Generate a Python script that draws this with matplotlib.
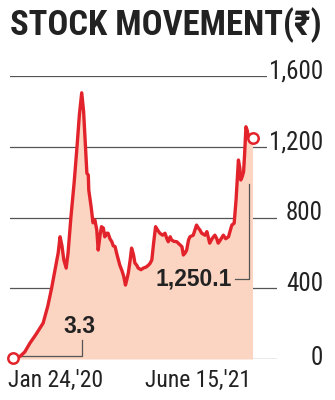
import matplotlib
matplotlib.use('Agg')
import matplotlib.pyplot as plt
import matplotlib.transforms as mtransforms
from matplotlib import font_manager

# days since Jan 24, 2020 and share price (rupees)
days = [0, 14, 24, 35, 48, 63, 73, 81, 88, 95, 99, 103, 107, 112, 116, 122, 129, 135, 140, 145,
        149, 153, 156, 159, 160, 165, 169, 173, 177, 180, 184, 187, 191, 194, 198, 201, 205, 209,
        212, 216, 219, 223, 226, 230, 234, 238, 241, 244, 248, 251, 255, 258, 262, 265, 271, 276,
        282, 287, 290, 294, 298, 302, 306, 311, 317, 322, 326, 329, 333, 336, 341, 347, 352, 358,
        361, 365, 368, 372, 375, 382, 389, 393, 396, 400, 407, 411, 417, 422, 428, 432, 435, 439,
        446, 451, 457, 460, 464, 469, 473, 478, 481, 483, 486, 489, 491, 494, 497, 499, 508]
price = [3.3, 15, 40, 90, 140, 203, 300, 400, 500, 600, 691, 640, 560, 514, 600, 800, 1000, 1200,
         1380, 1505, 1400, 1200, 1050, 1040, 955, 860, 770, 786, 729, 616, 700, 748, 740, 691, 711,
         711, 680, 663, 640, 635, 600, 560, 530, 503, 470, 418, 450, 486, 560, 627, 590, 543, 530,
         514, 505, 514, 520, 531, 540, 560, 660, 748, 730, 711, 700, 711, 680, 663, 691, 673, 665,
         663, 650, 635, 588, 600, 616, 673, 691, 700, 757, 740, 730, 711, 700, 720, 655, 680, 700,
         680, 655, 670, 700, 680, 691, 720, 757, 768, 900, 1125, 1080, 1012, 1030, 1059, 1150, 1313,
         1290, 1256, 1250.1]

y_ticks = [0, 400, 800, 1200, 1600]
y_labels = ['0', '400', '800', '1,200', '1,600']
x_labels = ["Jan 24,'20", "June 15,'21"]
first_label = '3.3'
last_label = '1,250.1'


def pick_font(names):
    for name in names:
        try:
            font_manager.findfont(font_manager.FontProperties(family=name), fallback_to_default=False)
            return name
        except ValueError:
            pass
    return 'DejaVu Sans'


narrow = [pick_font(['Liberation Sans Narrow', 'DejaVu Sans Condensed', 'Roboto Condensed',
                     'Liberation Sans', 'Roboto']), 'DejaVu Sans']
boldfont = [pick_font(['Liberation Sans', 'Roboto']), 'DejaVu Sans']

fig = plt.figure(figsize=(3.35, 4.0), dpi=100)
ax = fig.add_axes([10 / 335, 41 / 400, 267 / 335, 283 / 400])
ax.set_xlim(-7.4, 560)
ax.set_ylim(0, 1600)
ax.axis('off')

# gridlines
for v in y_ticks:
    ax.axhline(v, color='#555555', lw=0.9, zorder=1)

ax.fill_between(days, price, 0, color='#fbd4c2', lw=0, zorder=2)
ax.plot(days, price, color='#e3232b', lw=2.4, zorder=4, clip_on=False, solid_joinstyle='round')
ax.plot([days[0], days[-1]], [price[0], price[-1]], ls='none', marker='o', ms=7.5,
        mfc='white', mec='#e3232b', mew=1.8, zorder=5, clip_on=False)

# y labels on the right
trans = mtransforms.blended_transform_factory(ax.transAxes, ax.transData)
for v, lab in zip(y_ticks, y_labels):
    off = -4.5 if v == 0 else -2
    ax.annotate(lab, xy=(1.1723, v), xycoords=trans, xytext=(0, off), textcoords='offset points',
                ha='right', va='baseline', fontsize=18, family=narrow, color='#222222',
                bbox=dict(facecolor='white', edgecolor='none', pad=1.0), zorder=3)

# x labels
ax.annotate(x_labels[0], xy=(0, 0), xycoords=('data', 'axes fraction'), xytext=(-4, -7),
            textcoords='offset points', ha='left', va='top', fontsize=17, family=narrow,
            color='#222222')
ax.annotate(x_labels[1], xy=(days[-1], 0), xycoords=('data', 'axes fraction'), xytext=(-1, -7),
            textcoords='offset points', ha='right', va='top', fontsize=17, family=narrow,
            color='#222222')

# callouts
ax.plot([days[0], 145.6, 145.6], [15, 15, 107], color='#555555', lw=0.9, zorder=3, clip_on=False)
ax.text(141, 147, first_label, ha='center', va='baseline', fontsize=16.5, fontweight='bold',
        family=boldfont, color='#222222', zorder=6)
ax.plot([470.8, 499.5, 499.5], [452, 452, 990], color='#555555', lw=0.9, zorder=3)
ax.text(464.4, 452, last_label, ha='right', va='center', fontsize=16.5, fontweight='bold',
        family=boldfont, color='#222222', zorder=6)

# title, sized to span the chart width
title = fig.text(10 / 335, 1 - 35 / 400, 'STOCK MOVEMENT(₹)', ha='left', va='baseline',
                 fontsize=26, fontweight='bold', family=narrow, color='#222222')
renderer = fig.canvas.get_renderer()
w = title.get_window_extent(renderer).width
title.set_fontsize(min(30, 26 * 312 / w))

fig.savefig('out.png', dpi=100)
